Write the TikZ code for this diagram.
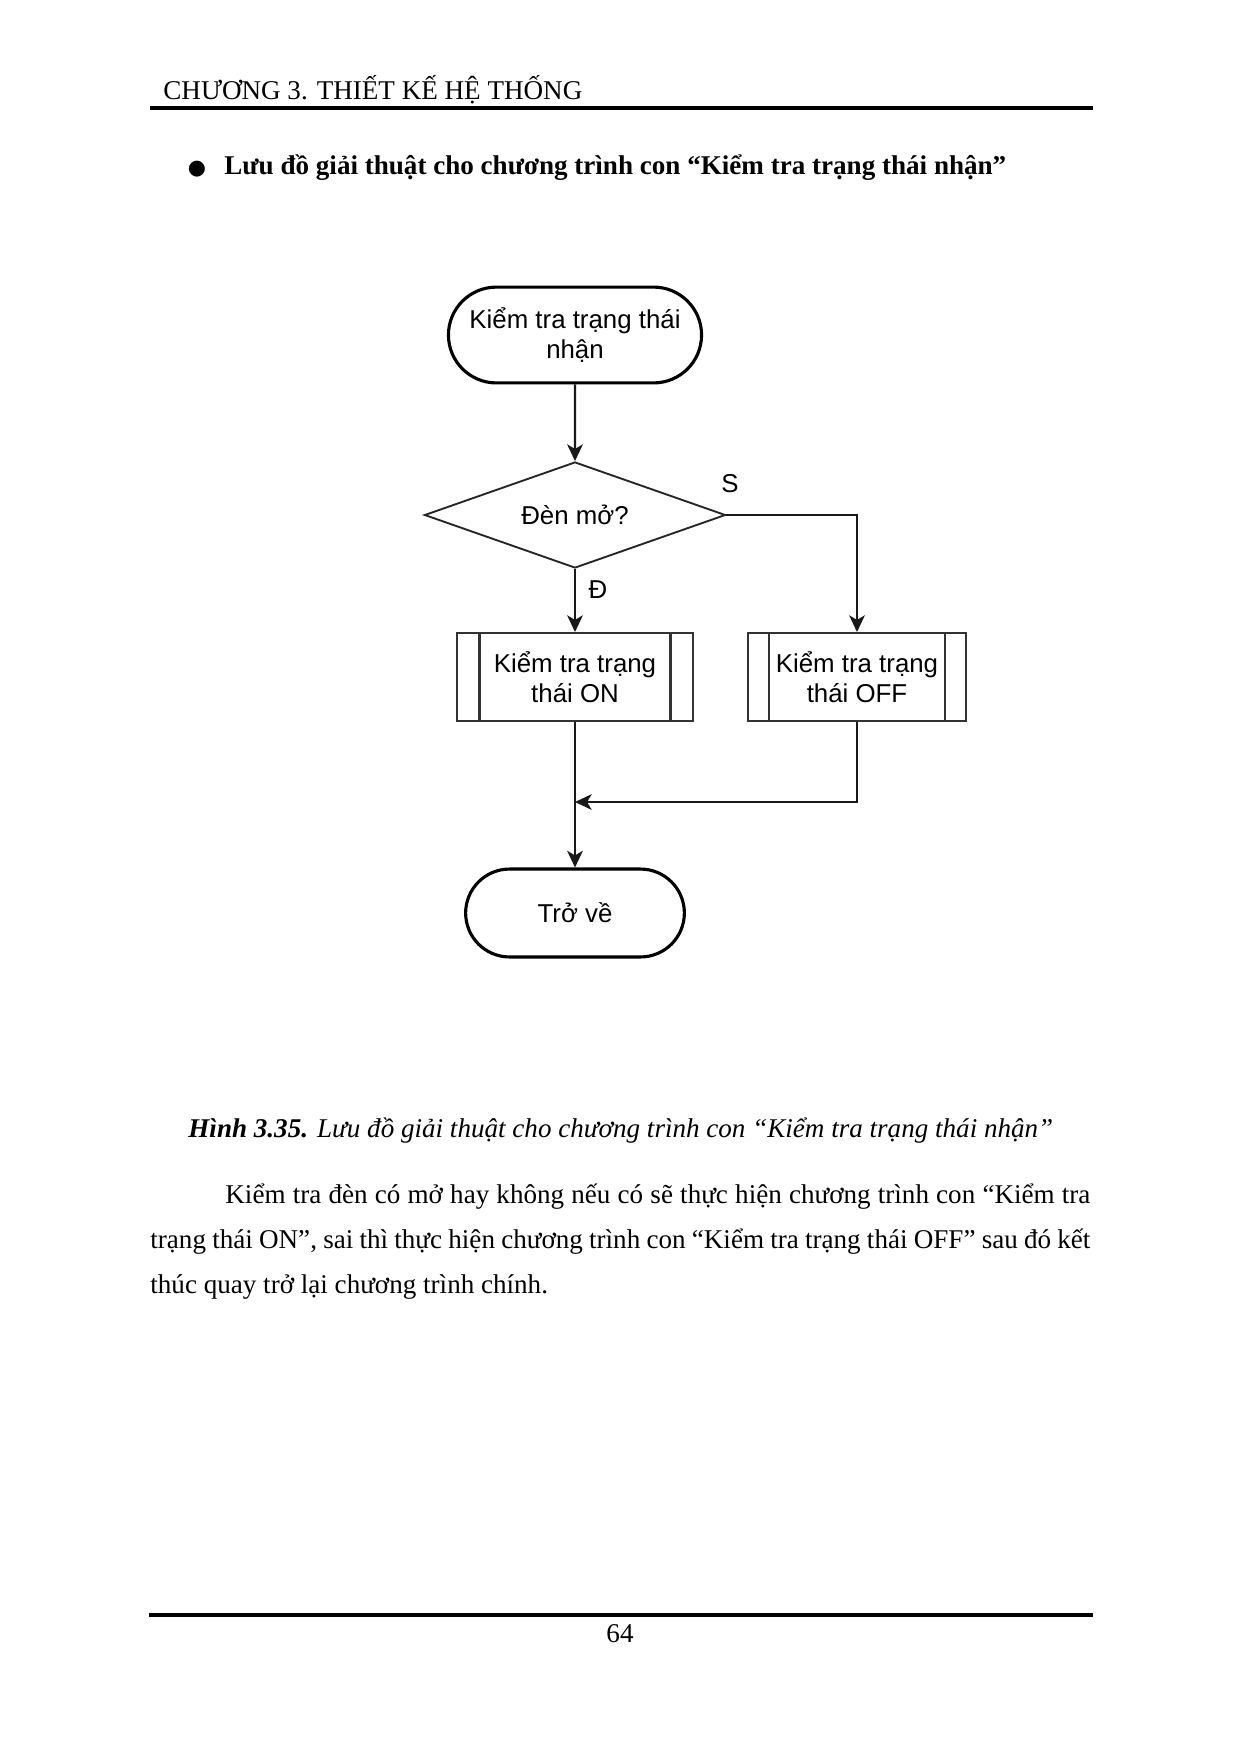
\documentclass[tikz,border=0pt]{standalone}
\usepackage{fontspec}
\setmainfont{Liberation Serif}
\newfontfamily\arial{Liberation Sans}
\newfontfamily\dejavu{DejaVu Sans}
\usetikzlibrary{arrows.meta,shapes.geometric,shapes.misc}
\begin{document}
\begin{tikzpicture}[x=0.48pt,y=-0.48pt,
  txt/.style={inner sep=0pt,font=\fontsize{13}{15}\selectfont},
  fc/.style={font=\arial\fontsize{12.4}{14.6}\selectfont,align=center,inner sep=0pt},
  term/.style={fc,draw=black,line width=1.5pt,rounded rectangle,rounded rectangle arc length=180},
  subp/.style={fc,draw=black!80,line width=1pt,rectangle},
  dec/.style={fc,draw=black!85,line width=0.9pt,diamond,aspect=2.84,minimum width=144.5pt,minimum height=50.9pt},
  arr/.style={draw=black!90,line width=1.05pt,-{Stealth[length=8pt,width=7.5pt,inset=2.2pt]}},
  lbl/.style={font=\arial\fontsize{12.4}{14}\selectfont,inner sep=0pt}]
\useasboundingbox[fill=white] (0,0) rectangle (1240,1754);
% header
\node[txt,anchor=base west] (hdr) at (163,99) {CHƯƠNG 3. THIẾT KẾ HỆ THỐNG};
\coordinate (hl) at (150,108);
\coordinate (hr) at (1093,108);
\draw[line width=1.6pt] (hl) -- (hr);
% title
\node[inner sep=0pt,font=\dejavu\fontsize{10}{12}\selectfont,anchor=base] (bul) at (197,174) {●};
\node[txt,anchor=base west,font=\bfseries\fontsize{13}{15}\selectfont] (ttl) at (224,174) {Lưu đồ giải thuật cho chương trình con “Kiểm tra trạng thái nhận”};
% flowchart
\node[term,minimum width=121.5pt,minimum height=46pt] (start) at (575,335) {Kiểm tra trạng thái\\nhận};
\node[dec] (d) at (575,515) {Đèn mở?};
\node[subp,minimum width=113.7pt,minimum height=42.2pt] (on) at (575,677) {Kiểm tra trạng\\thái ON};
\node[subp,minimum width=104.6pt,minimum height=42.2pt] (off) at (857,677) {Kiểm tra trạng\\thái OFF};
\draw[black!80,line width=1pt] ([xshift=11.5pt]on.north west) -- ([xshift=11.5pt]on.south west);
\draw[black!80,line width=1pt] ([xshift=-11.5pt]on.north east) -- ([xshift=-11.5pt]on.south east);
\draw[black!80,line width=1pt] ([xshift=10.5pt]off.north west) -- ([xshift=10.5pt]off.south west);
\draw[black!80,line width=1pt] ([xshift=-10.5pt]off.north east) -- ([xshift=-10.5pt]off.south east);
\node[term,minimum width=105pt,minimum height=42.2pt] (end) at (575,913) {Trở về};
\coordinate (m) at (575,802);
\draw[arr] (start) -- (d);
\draw[arr] (d.south) -- (on.north);
\draw[arr] (d.east) -| (off.north);
\draw[arr] (off.south) |- (m);
\draw[arr] (on.south) -- (end.north);
\node[lbl] (s) at (730,484) {S};
\node[lbl] (dd) at (598,590) {Đ};
% caption
\node[txt,anchor=base west] (cap) at (188,1137) {\textbf{\textit{Hình 3.35.}} \textit{Lưu đồ giải thuật cho chương trình con “Kiểm tra trạng thái nhận”}};
% paragraph
\node[txt,anchor=base west] (p1) at (225,1203) {\makebox[865\dimexpr0.48pt\relax][s]{Kiểm tra đèn có mở hay không nếu có sẽ thực hiện chương trình con “Kiểm tra}};
\node[txt,anchor=base west] (p2) at (150,1248) {\makebox[940\dimexpr0.48pt\relax][s]{trạng thái ON”, sai thì thực hiện chương trình con “Kiểm tra trạng thái OFF” sau đó kết}};
\node[txt,anchor=base west] (p3) at (150,1293) {thúc quay trở lại chương trình chính.};
% footer
\coordinate (fl) at (149,1615);
\coordinate (fr) at (1093,1615);
\draw[line width=1.6pt] (fl) -- (fr);
\node[txt,anchor=base] (pg) at (620,1642) {64};
\end{tikzpicture}
\end{document}
